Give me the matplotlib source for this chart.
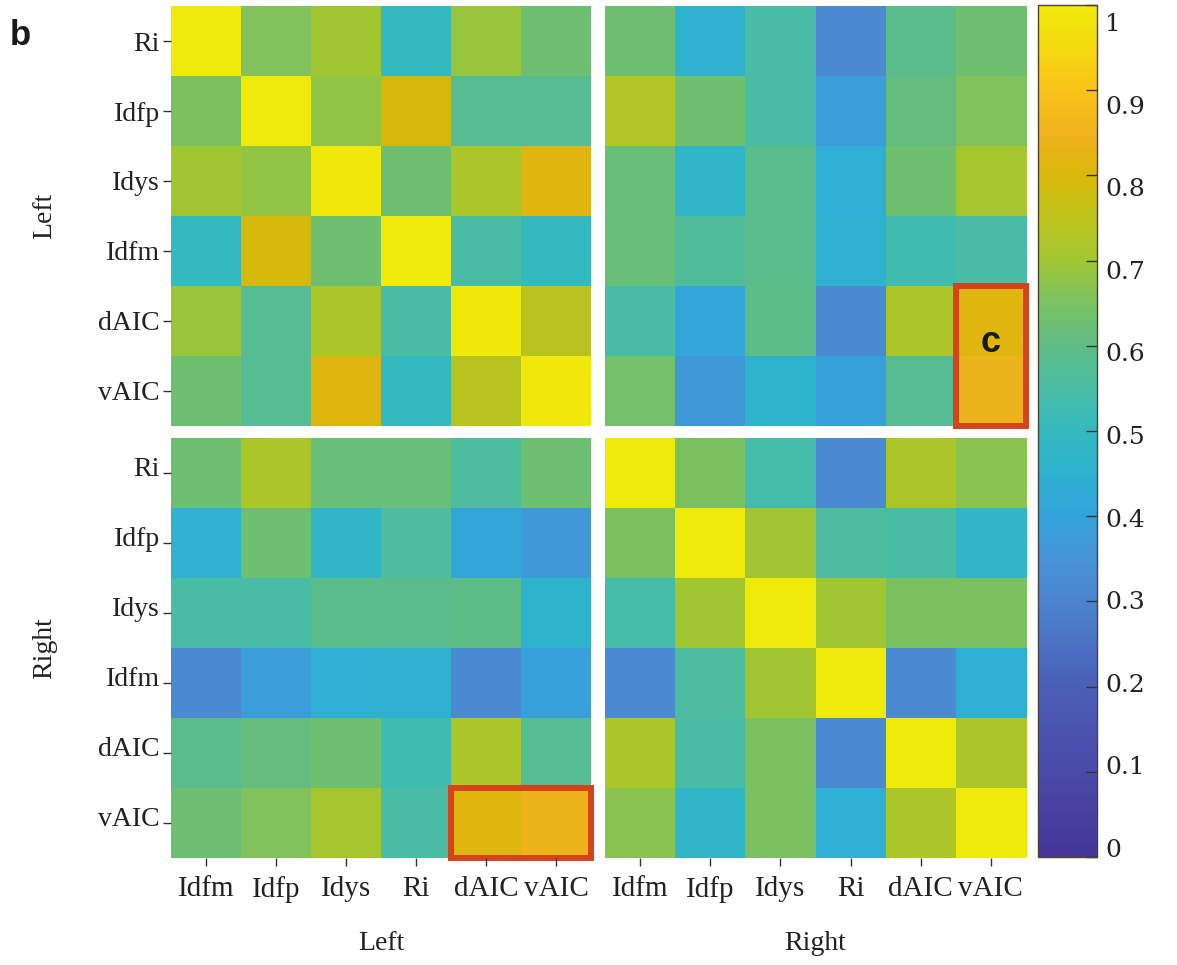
import numpy as np
import matplotlib
matplotlib.use('Agg')
import matplotlib.pyplot as plt
from matplotlib.colors import LinearSegmentedColormap
from matplotlib.patches import Rectangle
from matplotlib.transforms import ScaledTranslation

# labels
row_labels = ['Ri', 'Idfp', 'Idys', 'Idfm', 'dAIC', 'vAIC']
col_labels = ['Idfm', 'Idfp', 'Idys', 'Ri', 'dAIC', 'vAIC']
group_labels = ['Left', 'Right']

# block values (rows top->bottom, cols left->right)
left_left = [
    [1.00, 0.66, 0.70, 0.50, 0.69, 0.63],
    [0.65, 1.00, 0.68, 0.79, 0.58, 0.58],
    [0.70, 0.68, 0.99, 0.63, 0.72, 0.81],
    [0.50, 0.79, 0.63, 1.00, 0.55, 0.50],
    [0.69, 0.58, 0.72, 0.55, 0.99, 0.74],
    [0.63, 0.58, 0.81, 0.50, 0.74, 0.99],
]
left_right = [
    [0.63, 0.45, 0.55, 0.32, 0.59, 0.63],
    [0.73, 0.63, 0.55, 0.38, 0.61, 0.66],
    [0.62, 0.48, 0.59, 0.44, 0.63, 0.71],
    [0.62, 0.57, 0.59, 0.45, 0.53, 0.55],
    [0.55, 0.41, 0.60, 0.32, 0.72, 0.81],
    [0.64, 0.37, 0.46, 0.39, 0.58, 0.84],
]
right_left = [
    [0.63, 0.72, 0.62, 0.62, 0.56, 0.63],
    [0.45, 0.63, 0.48, 0.56, 0.41, 0.37],
    [0.55, 0.55, 0.59, 0.59, 0.60, 0.46],
    [0.32, 0.38, 0.44, 0.45, 0.32, 0.39],
    [0.59, 0.61, 0.63, 0.53, 0.72, 0.58],
    [0.63, 0.66, 0.71, 0.55, 0.81, 0.84],
]
right_right = [
    [1.00, 0.65, 0.54, 0.32, 0.72, 0.67],
    [0.65, 1.00, 0.70, 0.56, 0.55, 0.48],
    [0.54, 0.70, 1.00, 0.70, 0.65, 0.65],
    [0.32, 0.56, 0.70, 1.00, 0.32, 0.44],
    [0.72, 0.55, 0.65, 0.32, 1.00, 0.72],
    [0.67, 0.48, 0.65, 0.44, 0.72, 1.00],
]

cbar_ticks = [0, 0.1, 0.2, 0.3, 0.4, 0.5, 0.6, 0.7, 0.8, 0.9, 1]
cbar_labels = ['0', '0.1', '0.2', '0.3', '0.4', '0.5', '0.6', '0.7', '0.8', '0.9', '1']

# parula-like map, matched to the colorbar in the picture
cmap = LinearSegmentedColormap.from_list('parula_like', [
    (0.00, (0.27, 0.21, 0.60)),
    (0.10, (0.29, 0.29, 0.66)),
    (0.20, (0.29, 0.37, 0.72)),
    (0.30, (0.30, 0.52, 0.81)),
    (0.35, (0.28, 0.58, 0.84)),
    (0.40, (0.20, 0.64, 0.86)),
    (0.45, (0.18, 0.70, 0.82)),
    (0.50, (0.20, 0.73, 0.75)),
    (0.55, (0.29, 0.74, 0.65)),
    (0.60, (0.37, 0.74, 0.53)),
    (0.65, (0.48, 0.76, 0.39)),
    (0.70, (0.63, 0.78, 0.20)),
    (0.75, (0.74, 0.77, 0.11)),
    (0.80, (0.85, 0.72, 0.04)),
    (0.85, (0.94, 0.70, 0.12)),
    (0.90, (0.98, 0.76, 0.10)),
    (0.95, (0.96, 0.85, 0.06)),
    (1.00, (0.94, 0.92, 0.04)),
])

W, H = 1177, 965
txt_color = '#222222'
red = '#d6421c'
serif = 'Liberation Serif'

def px_axes(x0, y0, x1, y1):
    return fig.add_axes([x0 / W, 1 - y1 / H, (x1 - x0) / W, (y1 - y0) / H])

fig = plt.figure(figsize=(W / 100, H / 100), dpi=100)

ax_tl = px_axes(171, 6, 591, 426)
ax_tr = px_axes(605, 6, 1026, 426)
ax_bl = px_axes(171, 438, 591, 858)
ax_br = px_axes(605, 438, 1026, 858)

for ax, vals in [(ax_tl, left_left), (ax_tr, left_right), (ax_bl, right_left), (ax_br, right_right)]:
    im = ax.imshow(np.array(vals), cmap=cmap, vmin=0, vmax=1, aspect='auto', interpolation='nearest')
    ax.set_xticks(range(len(col_labels)))
    ax.set_yticks(range(len(row_labels)))
    ax.set_xticklabels([])
    ax.set_yticklabels([])
    for s in ax.spines.values():
        s.set_visible(False)
    ax.tick_params(length=0, colors='#333333', width=1)

for ax in [ax_tl, ax_bl]:
    ax.set_yticklabels(row_labels, family=serif, fontsize=20, color=txt_color)
    ax.tick_params(axis='y', length=6, pad=2)
for ax in [ax_bl, ax_br]:
    ax.set_xticklabels(col_labels, family=serif, fontsize=21, color=txt_color)
    ax.tick_params(axis='x', length=6, pad=7)

# lower block labels sit slightly above their ticks
for lbl in ax_bl.get_yticklabels():
    lbl.set_transform(lbl.get_transform() + ScaledTranslation(0, 5 / 72, fig.dpi_scale_trans))

# highlighted boxes
ax_tr.add_patch(Rectangle((4.5, 3.5), 1, 2, fill=False, ec=red, lw=4.3, clip_on=False, joinstyle='miter'))
ax_bl.add_patch(Rectangle((3.5, 4.5), 2, 1, fill=False, ec=red, lw=4.3, clip_on=False, joinstyle='miter'))
ax_tr.text(5, 4.3, 'c', ha='center', va='center', fontsize=26, fontweight='bold',
           family='Liberation Sans', color='#1a1a1a')

# colorbar
cax = px_axes(1038, 5, 1097, 857)
cbar = fig.colorbar(im, cax=cax, ticks=cbar_ticks)
cbar.ax.set_yticklabels(cbar_labels, family='DejaVu Serif', fontsize=18, color=txt_color)
cbar.ax.tick_params(direction='in', length=8, width=1, colors='#333333', pad=6)
# labels are spread a little inside the bar ends, as in the original
for v, t in zip(cbar_ticks, cbar.ax.get_yticklabels()):
    t.set_color(txt_color)
    dy = 17 - 26 * (1 - v)
    t.set_transform(t.get_transform() + ScaledTranslation(0, -dy / 100, fig.dpi_scale_trans))
cbar.outline.set_edgecolor('#4a4232')
cbar.outline.set_linewidth(1)

# group labels
fig.text(381 / W, 1 - 943 / H, group_labels[0], ha='center', va='center', family=serif, fontsize=20, color=txt_color)
fig.text(815 / W, 1 - 943 / H, group_labels[1], ha='center', va='center', family=serif, fontsize=20, color=txt_color)
fig.text(45 / W, 1 - 216 / H, group_labels[0], ha='center', va='center', rotation=90, family=serif, fontsize=20, color=txt_color)
fig.text(45 / W, 1 - 648 / H, group_labels[1], ha='center', va='center', rotation=90, family=serif, fontsize=20, color=txt_color)

fig.text(10 / W, 1 - 45 / H, 'b', ha='left', va='baseline', fontsize=25, fontweight='bold',
         family='Liberation Sans', color='#1a1a1a')

fig.savefig('out.png', dpi=100)
